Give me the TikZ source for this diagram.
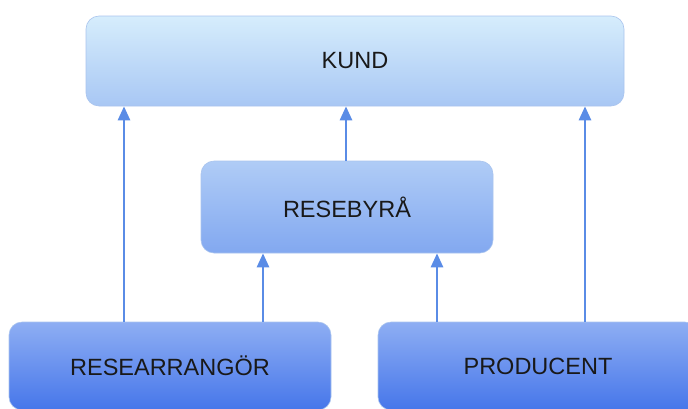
\documentclass[tikz,border=0pt]{standalone}
\usepackage{fontspec}
\setmainfont{Liberation Sans}
\usetikzlibrary{arrows.meta}
\definecolor{arrowc}{HTML}{5A8CE6}
\definecolor{kundtop}{HTML}{D6EDFC}
\definecolor{kundbot}{HTML}{A8C7F4}
\definecolor{rbtop}{HTML}{B0CCF6}
\definecolor{rbbot}{HTML}{82A8F0}
\definecolor{lowtop}{HTML}{8EAEF3}
\definecolor{lowbot}{HTML}{4676EA}
\definecolor{edgec}{HTML}{A9C4EE}
\begin{document}
\begin{tikzpicture}[x=1pt,y=-1pt,
  boxstyle/.style={rectangle, rounded corners=13pt, draw=edgec, line width=0.6pt,
    font=\fontsize{23.5}{27}\selectfont, text=black!90, inner sep=0pt},
  arr/.style={draw=arrowc, line width=2.6pt, -{Triangle[width=12pt,length=14pt]}}]
\useasboundingbox (0,0) rectangle (688,408);
\clip (0,0) rectangle (688,408);
\node[boxstyle, top color=kundtop, bottom color=kundbot, minimum width=538pt, minimum height=90pt] (kund) at (355,61) {KUND};
\node[boxstyle, top color=rbtop, bottom color=rbbot, minimum width=292pt, minimum height=92pt] (rb) at (347,207) {RESEBYRÅ};
\node[boxstyle, top color=lowtop, bottom color=lowbot, minimum width=322pt, minimum height=88pt] (ra) at (170,366) {RESEARRANGÖR};
\node[boxstyle, top color=lowtop, bottom color=lowbot, minimum width=320pt, minimum height=88pt] (pr) at (538,366) {PRODUCENT};
\draw[arr] (ra.north -| 124,0) -- (kund.south -| 124,0);
\draw[arr] (rb.north -| 346,0) -- (kund.south -| 346,0);
\draw[arr] (pr.north -| 585,0) -- (kund.south -| 585,0);
\draw[arr] (ra.north -| 263,0) -- (rb.south -| 263,0);
\draw[arr] (pr.north -| 437,0) -- (rb.south -| 437,0);
\end{tikzpicture}
\end{document}
